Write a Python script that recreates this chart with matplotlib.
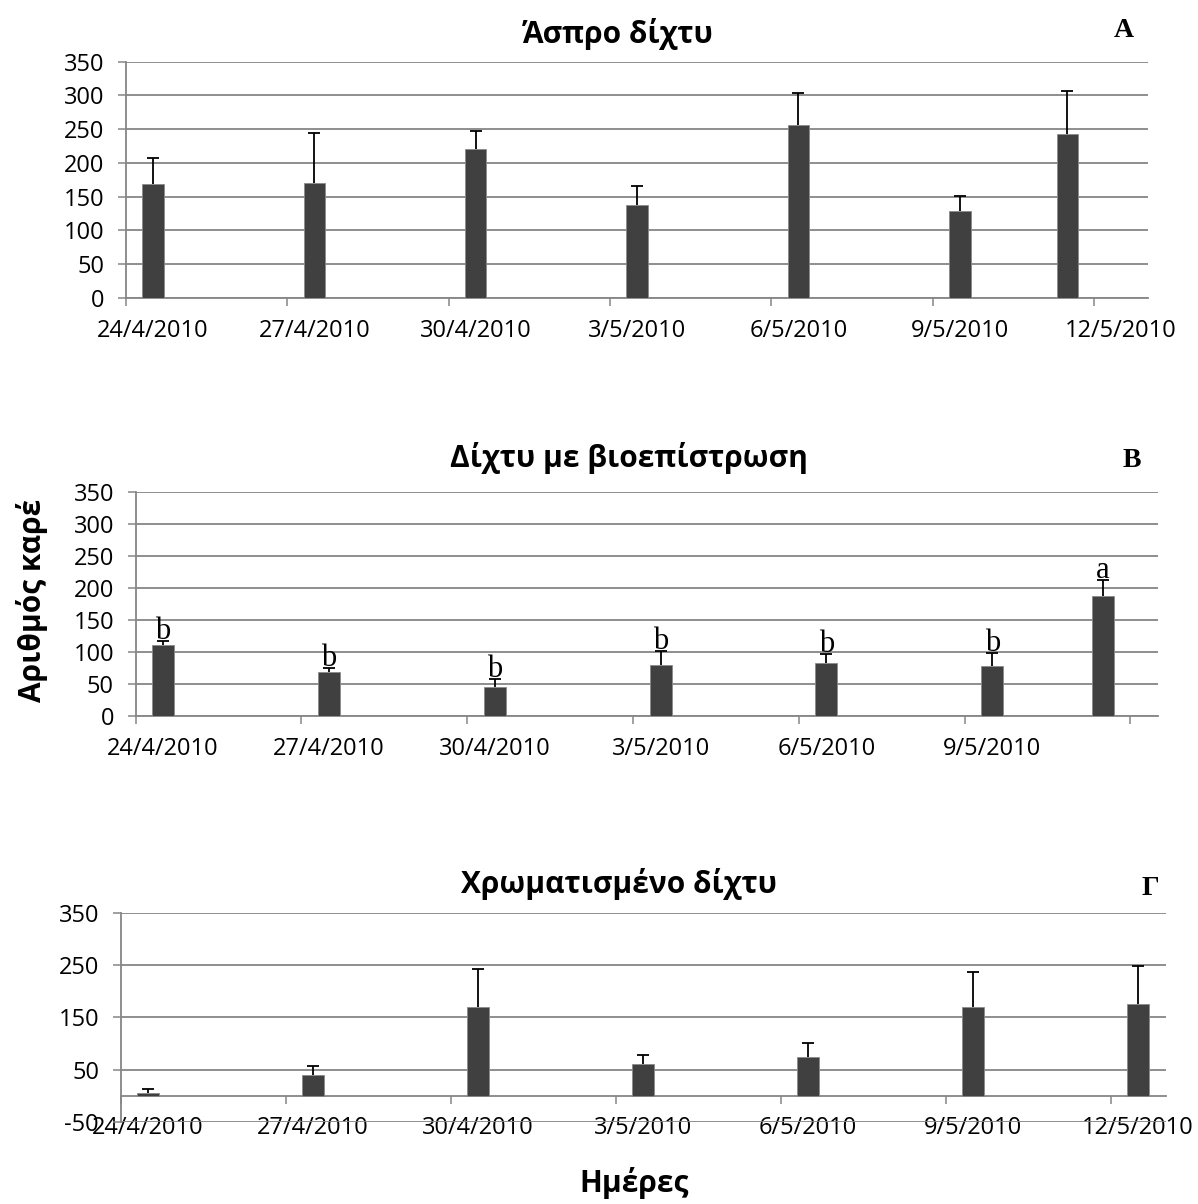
import matplotlib
matplotlib.use('Agg')
import matplotlib.pyplot as plt
import matplotlib.dates as mdates
import numpy as np
import datetime as dt

plt.rcParams['font.family'] = ['Open Sans', 'DejaVu Sans']
plt.rcParams['axes.unicode_minus'] = False

# ---------------- data ----------------
tick_dates = ['2010-04-24', '2010-04-27', '2010-04-30', '2010-05-03',
              '2010-05-06', '2010-05-09', '2010-05-12']
tick_labels = ['24/4/2010', '27/4/2010', '30/4/2010', '3/5/2010',
               '6/5/2010', '9/5/2010', '12/5/2010']
tick_labels_B = ['24/4/2010', '27/4/2010', '30/4/2010', '3/5/2010',
                 '6/5/2010', '9/5/2010', '']

title_A = 'Άσπρο δίχτυ'
dates_A = ['2010-04-24', '2010-04-27', '2010-04-30', '2010-05-03',
           '2010-05-06', '2010-05-09', '2010-05-11']
vals_A = [169, 170, 221, 137, 256, 128, 243]
err_A = [38, 74, 26, 28, 48, 23, 63]

title_B = 'Δίχτυ με βιοεπίστρωση'
dates_B = ['2010-04-24', '2010-04-27', '2010-04-30', '2010-05-03',
           '2010-05-06', '2010-05-09', '2010-05-11']
vals_B = [110, 69, 45, 80, 82, 78, 188]
err_B = [7, 6, 13, 22, 15, 21, 24]
letters_B = ['b', 'b', 'b', 'b', 'b', 'b', 'a']

title_G = 'Χρωματισμένο δίχτυ'
dates_G = ['2010-04-24', '2010-04-27', '2010-04-30', '2010-05-03',
           '2010-05-06', '2010-05-09', '2010-05-12']
vals_G = [6, 39, 170, 60, 74, 170, 176]
err_G = [7, 18, 74, 18, 27, 67, 73]

ylabel = 'Αριθμός καρέ'
xlabel = 'Ημέρες'

# ---------------- style ----------------
BAR = '#404040'
GRID = '#868686'
TICKSIZE = 17


def D(s):
    return dt.datetime.strptime(s, '%Y-%m-%d')


def panel(ax, dates, vals, errs, xmax, ylim, yticks, labels, zero_spine=False):
    x = mdates.date2num([D(d) for d in dates]) + 0.5
    ax.bar(x, vals, width=0.4, color=BAR, edgecolor='#8a8a8a', linewidth=0.6, zorder=3)
    eb = ax.errorbar(x, vals, yerr=[np.zeros(len(vals)), errs], fmt='none',
                     ecolor='black', elinewidth=1.3, capsize=4.3, capthick=1.3, zorder=2.5)
    # plus-only error bars: drop the lower cap
    eb[1][0].remove()
    ax.set_xlim(mdates.date2num(D(tick_dates[0])), mdates.date2num(D(xmax)))
    ax.set_ylim(*ylim)
    ax.set_yticks(yticks)
    ax.set_axisbelow(True)
    ax.yaxis.grid(True, color=GRID, linewidth=1.3)
    tpos = mdates.date2num([D(d) for d in tick_dates])
    ax.set_xticks(tpos)
    ax.set_xticklabels([''] * len(tpos))
    ax.set_xticks(tpos + 0.5, minor=True)
    ax.set_xticklabels(labels, minor=True)
    ax.tick_params(axis='x', which='major', length=6, width=1.1, color=GRID, direction='out')
    ax.tick_params(axis='x', which='minor', length=0, pad=15, labelsize=TICKSIZE)
    ax.tick_params(axis='y', length=5.5, width=1.1, color=GRID, pad=10, labelsize=TICKSIZE)
    for s in ['top', 'right']:
        ax.spines[s].set_visible(False)
    for s in ['left', 'bottom']:
        ax.spines[s].set_color(GRID)
        ax.spines[s].set_linewidth(1.3)
    if zero_spine:
        ax.spines['bottom'].set_position(('data', 0))
    return x


fig = plt.figure(figsize=(11.98, 12.04), dpi=100)

axA = fig.add_axes([0.10518, 0.75274, 0.85310, 0.19601])
panel(axA, dates_A, vals_A, err_A, '2010-05-13', (0, 350), range(0, 351, 50), tick_labels)

axB = fig.add_axes([0.11311, 0.40532, 0.85351, 0.18630])
xB = panel(axB, dates_B, vals_B, err_B, '2010-05-12', (0, 350), range(0, 351, 50), tick_labels_B)
for xi, v, e, lt in zip(xB, vals_B, err_B, letters_B):
    axB.text(xi, v + e + 3, lt, ha='center', va='baseline',
             family=['Liberation Serif', 'DejaVu Serif'], fontsize=22)

axG = fig.add_axes([0.10067, 0.06836, 0.87229, 0.17309])
panel(axG, dates_G, vals_G, err_G, '2010-05-13', (-50, 350), [-50, 50, 150, 250, 350],
      tick_labels, zero_spine=True)

# titles
tkw = dict(ha='center', va='baseline', fontsize=21.5, fontweight='bold')
fig.text(0.5159, 0.9645, title_A, **tkw)
fig.text(0.5250, 0.6119, title_B, **tkw)
fig.text(0.5163, 0.2580, title_G, **tkw)

# panel letters
lkw = dict(ha='center', va='baseline', fontsize=20, fontweight='bold',
           family=['Liberation Serif', 'DejaVu Serif'])
fig.text(0.9382, 0.9690, 'A', **lkw)
fig.text(0.9449, 0.6124, 'B', **lkw)
fig.text(0.9599, 0.2566, 'Γ', **lkw)

fig.text(0.0267, 0.5017, ylabel, rotation=90, ha='center', va='center',
         fontsize=21.5, fontweight='bold')
fig.text(0.5292, 0.0100, xlabel, ha='center', va='baseline',
         fontsize=21.5, fontweight='bold')

fig.savefig('out.png', dpi=100)
